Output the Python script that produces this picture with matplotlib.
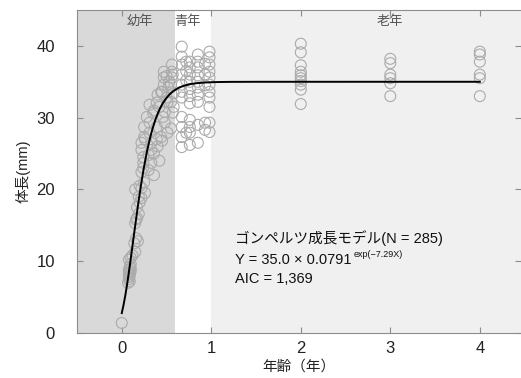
import numpy as np
import matplotlib
matplotlib.use("Agg")
import matplotlib.pyplot as plt

plt.rcParams['font.family'] = ['Liberation Sans', 'Noto Sans CJK JP', 'DejaVu Sans']

# 幼年 (juvenile)
juv_age = [0.0,
           0.07, 0.08, 0.09, 0.09, 0.08, 0.09, 0.10, 0.08, 0.10, 0.09, 0.10, 0.08,
           0.08, 0.12, 0.15, 0.10,
           0.14, 0.16, 0.18,
           0.15, 0.17, 0.19, 0.16,
           0.17, 0.20, 0.22, 0.26, 0.19,
           0.15, 0.20, 0.25, 0.22,
           0.22, 0.30, 0.36, 0.24,
           0.24, 0.33, 0.42,
           0.24, 0.30, 0.36,
           0.22, 0.33, 0.40,
           0.22, 0.26, 0.33, 0.39, 0.45,
           0.25, 0.31, 0.44, 0.51,
           0.25, 0.31, 0.39, 0.48, 0.55,
           0.28, 0.35, 0.46, 0.57,
           0.31, 0.39, 0.51, 0.58,
           0.42, 0.48, 0.50, 0.45, 0.55,
           0.47, 0.44, 0.47, 0.47,
           0.56, 0.56, 0.56, 0.55, 0.57,
           0.52, 0.53, 0.40, 0.36, 0.50, 0.58]
juv_len = [1.4,
           7.0, 7.5, 8.0, 8.4, 8.8, 9.2, 9.6, 7.8, 8.6, 7.2, 9.0, 8.2,
           10.2, 10.8, 11.3, 10.5,
           12.5, 13.2, 12.8,
           15.3, 16.0, 16.6, 15.8,
           17.5, 18.2, 18.8, 19.5, 19.0,
           20.0, 20.5, 21.0, 20.2,
           22.4, 22.7, 22.0, 23.0,
           23.7, 23.7, 24.0,
           24.5, 24.8, 25.0,
           25.5, 25.5, 26.0,
           26.5, 27.0, 26.5, 27.0, 26.8,
           27.3, 27.9, 27.3, 27.9,
           28.7, 29.3, 28.7, 29.3, 28.5,
           30.1, 30.7, 30.1, 30.7,
           31.8, 32.1, 32.1, 31.5,
           31.5, 30.8, 32.8, 33.6, 32.2,
           34.6, 33.6, 35.6, 36.4,
           35.6, 36.4, 37.4, 34.6, 36.0,
           34.2, 35.0, 33.2, 31.0, 35.8, 33.4]

# 青年 (young)
yng_age = [0.67] * 11 + [0.72] * 4 + [0.76] * 11 + [0.85] * 10 + [0.93] * 5 + [0.98] * 11
yng_len = [39.9, 37.4, 36.0, 34.6, 33.6, 32.8, 30.1, 28.7, 27.3, 25.9, 38.5,
           37.8, 36.5, 35.2, 27.9,
           37.8, 37.0, 36.0, 35.0, 34.0, 33.0, 32.0, 29.7, 27.9, 26.2, 28.7,
           38.8, 37.8, 37.0, 35.9, 35.0, 34.2, 33.2, 32.2, 29.0, 26.5,
           37.5, 36.0, 34.5, 29.3, 28.3,
           39.2, 38.4, 37.4, 36.4, 35.6, 34.6, 33.6, 32.8, 31.5, 29.3, 28.0]

# 老年 (old)
old_age = [2] * 10 + [3] * 6 + [4] * 6
old_len = [40.3, 39.1, 37.3, 36.4, 35.9, 35.5, 35.1, 34.6, 33.9, 31.9,
           38.2, 37.6, 36.0, 35.5, 34.8, 33.0,
           39.2, 38.8, 37.8, 36.0, 35.5, 33.0]

# Gompertz fit parameters from the label
L_inf, g_b, g_k = 35.0, 0.0791, 7.29

xticks = [0, 1, 2, 3, 4]
yticks = [0, 10, 20, 30, 40]

fig = plt.figure(figsize=(5.21, 3.78), dpi=100)
ax = fig.add_axes([77 / 521, 1 - 333 / 378, 1 - 77 / 521, (333 - 10) / 378])
ax.set_xlim(-0.5, 4.46)
ax.set_ylim(0, 45)

# stage shading
ax.axvspan(-0.5, 0.6, color='#d9d9d9', lw=0, zorder=0)
ax.axvspan(1.0, 4.46, color='#f0f0f0', lw=0, zorder=0)
ax.text(0.2, 43.4, '幼年', ha='center', va='center', fontsize=9.5, color='#555555')
ax.text(0.73, 43.4, '青年', ha='center', va='center', fontsize=9.5, color='#555555')
ax.text(3.0, 43.4, '老年', ha='center', va='center', fontsize=9.5, color='#555555')

ages = juv_age + yng_age + old_age
lens = juv_len + yng_len + old_len
ax.scatter(ages, lens, s=62, facecolors='none', edgecolors='#ababab', linewidths=0.8, zorder=2)

xc = np.linspace(0, 4, 400)
ax.plot(xc, L_inf * g_b ** np.exp(-g_k * xc), color='black', lw=1.4, zorder=3)

for s in ax.spines.values():
    s.set_color('#8c8c8c')
ax.spines['right'].set_visible(False)
ax.tick_params(direction='in', length=4, color='#8c8c8c', top=True, right=True,
               labelsize=12, labelcolor='#222222')
ax.tick_params(axis='y', pad=16)
ax.tick_params(axis='x', pad=6)
ax.set_xticks(xticks)
ax.set_yticks(yticks)
ax.set_xlabel('年齢（年）', fontsize=10.5, color='#222222', labelpad=2)
ax.set_ylabel('体長(mm)', fontsize=10.5, color='#222222', labelpad=4)

ax.text(1.27, 12.5, 'ゴンペルツ成長モデル(N = 285)', fontsize=10.5, color='#111111', va='baseline')
t2 = ax.text(1.27, 9.6, 'Y = 35.0 × 0.0791', fontsize=10.5, color='#111111', va='baseline')
ax.text(1.27, 6.9, 'AIC = 1,369', fontsize=10.5, color='#111111', va='baseline')

fig.canvas.draw()
bb = t2.get_window_extent()
ax.annotate('exp(−7.29X)', xy=(bb.x1, bb.y0), xycoords='figure pixels',
            xytext=(1, 7), textcoords='offset points', fontsize=6.5, color='#111111')

fig.savefig('out.png', dpi=100)
